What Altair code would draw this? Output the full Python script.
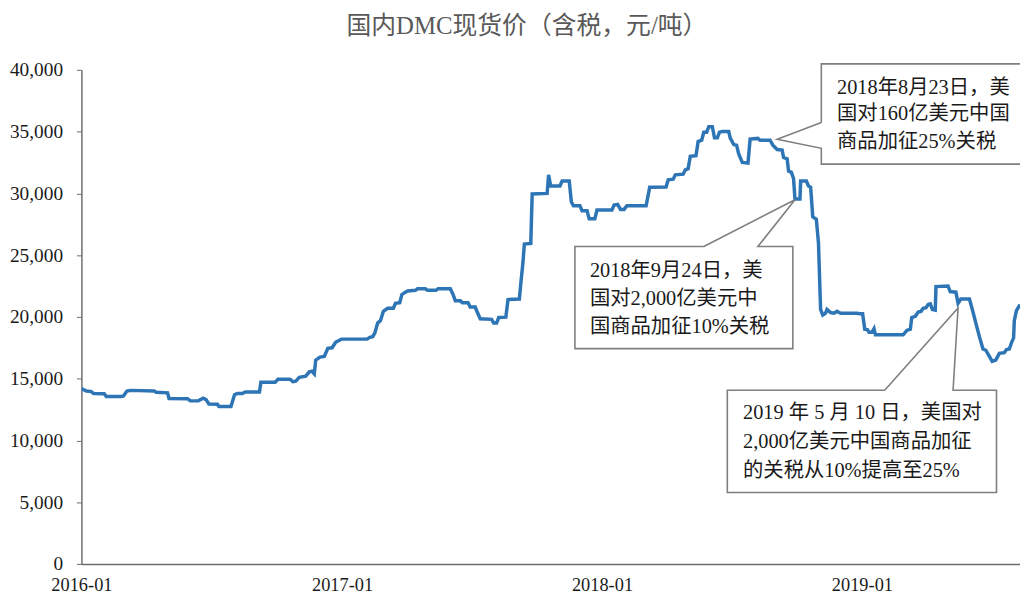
import altair as alt
import pandas as pd

# ---------------- data ----------------
dates_2016 = ["2016-01-01","2016-01-08","2016-01-15","2016-01-18","2016-02-02","2016-02-05","2016-02-26","2016-02-29","2016-03-05","2016-03-10",
              "2016-04-12","2016-04-15","2016-05-01","2016-05-03","2016-05-29","2016-06-02","2016-06-13","2016-06-20","2016-06-24","2016-06-28",
              "2016-07-10","2016-07-12","2016-07-29","2016-08-03","2016-08-07","2016-08-14","2016-08-18","2016-09-07","2016-09-09","2016-09-29",
              "2016-10-03","2016-10-20","2016-10-24","2016-10-28","2016-11-02","2016-11-11","2016-11-16","2016-11-20","2016-11-23","2016-11-25",
              "2016-12-01","2016-12-07","2016-12-09","2016-12-12","2016-12-18","2016-12-23","2016-12-31"]
prices_2016 = [14200,14000,13950,13800,13780,13550,13550,13600,14000,14050,
               14000,13900,13850,13400,13380,13200,13200,13420,13300,12950,
               12930,12750,12750,13700,13800,13800,13920,13920,14700,14700,
               14950,14950,14750,14800,15100,15200,15550,15600,15400,16500,
               16750,16800,17050,17450,17500,17950,18200]

dates_2017 = ["2017-02-05","2017-02-09","2017-02-13","2017-02-16","2017-02-20","2017-02-24","2017-02-28","2017-03-06","2017-03-14","2017-03-17",
              "2017-03-23","2017-03-26","2017-03-31","2017-04-03","2017-04-14","2017-04-17","2017-04-28","2017-05-01","2017-05-13","2017-05-16",
              "2017-06-02","2017-06-06","2017-06-09","2017-06-16","2017-06-19","2017-06-27","2017-06-30","2017-07-07","2017-07-09","2017-07-14",
              "2017-07-30","2017-08-02","2017-08-06","2017-08-09","2017-08-19","2017-08-22","2017-09-07","2017-09-09","2017-09-12","2017-09-14",
              "2017-09-23","2017-09-25","2017-10-16","2017-10-18","2017-10-21","2017-11-03","2017-11-06","2017-11-16","2017-11-19","2017-11-22",
              "2017-12-01","2017-12-04","2017-12-11","2017-12-14","2017-12-22","2017-12-25"]
prices_2017 = [18200,18350,18400,18700,19500,19700,20450,20700,20700,21100,
               21150,21800,22000,22100,22150,22270,22270,22150,22150,22280,
               22280,21800,21300,21300,21150,21150,20800,20800,20500,19850,
               19800,19500,19500,19950,19980,21400,21450,22700,24400,25900,
               25950,29950,30000,31500,30600,30600,31000,31000,29300,29000,
               29000,28600,28600,27950,27950,28650]

dates_2018 = ["2018-01-15","2018-01-18","2018-01-23","2018-01-27","2018-02-01","2018-02-05","2018-03-04","2018-03-09","2018-04-01","2018-04-04",
              "2018-04-11","2018-04-14","2018-04-25","2018-04-28","2018-05-02","2018-05-05","2018-05-13","2018-05-16","2018-05-21","2018-05-24",
              "2018-05-28","2018-05-31","2018-06-05","2018-06-08","2018-06-12","2018-06-15","2018-06-19","2018-06-28","2018-06-30","2018-07-05",
              "2018-07-09","2018-07-12","2018-07-17","2018-07-25","2018-07-28","2018-08-08","2018-08-11","2018-08-25","2018-08-29","2018-09-04",
              "2018-09-11","2018-09-13","2018-09-18","2018-09-20","2018-09-24","2018-09-27","2018-09-29","2018-10-06","2018-10-07","2018-10-15",
              "2018-10-18","2018-10-21","2018-10-24","2018-10-29","2018-11-01","2018-11-04","2018-11-07","2018-11-11","2018-11-13","2018-11-18",
              "2018-11-23","2018-11-27","2018-12-02","2018-12-25","2018-12-29"]
prices_2018 = [28650,29050,29100,28700,28700,29000,29000,30500,30520,31100,
               31150,31500,31550,31900,32000,33000,33050,34200,34300,34950,
               34950,35400,35400,34500,34500,34950,35000,35000,34500,33950,
               33900,33200,32500,32450,34400,34450,34300,34300,33900,33550,
               33500,32900,32800,31800,31700,31200,29550,29550,31000,31000,
               30600,30500,28100,27900,26000,20600,20150,20300,20600,20350,
               20300,20450,20300,20300,20250]

dates_2019 = ["2019-01-02","2019-01-05","2019-01-09","2019-01-11","2019-01-15","2019-01-18","2019-01-20","2019-02-28","2019-03-05","2019-03-10",
              "2019-03-12","2019-03-17","2019-03-21","2019-03-25","2019-03-28","2019-04-01","2019-04-04","2019-04-07","2019-04-10","2019-04-14",
              "2019-04-15","2019-05-02","2019-05-05","2019-05-13","2019-05-16","2019-05-20","2019-06-01","2019-06-06","2019-06-10","2019-06-15",
              "2019-06-20","2019-06-24","2019-06-29","2019-07-03","2019-07-08","2019-07-13","2019-07-20","2019-07-23","2019-07-27","2019-07-30",
              "2019-08-02","2019-08-03","2019-08-06","2019-08-11"]
prices_2019 = [20250,19000,18950,18750,18750,19050,18550,18550,18900,19000,
               19950,20050,20400,20450,20700,20750,21000,21050,20600,20550,
               22450,22500,22050,22000,21100,21450,21450,20400,19500,18400,
               17400,17300,16800,16400,16500,17050,17100,17350,17400,17900,
               18300,19700,20500,21000]

x_tick_years = [2016, 2017, 2018, 2019]
y_ticks = [0, 5000, 10000, 15000, 20000, 25000, 30000, 35000, 40000]

title_text = "国内DMC现货价（含税，元/吨）"

# callout outlines (date, value) vertices
callout_ids = ["c1"] * 8 + ["c2"] * 8 + ["c3"] * 8
callout_dates = ["2018-11-05","2018-11-05","2019-08-28","2019-08-28","2018-11-05","2018-11-05","2018-09-04","2018-11-05",
                 "2018-05-24","2018-09-29","2018-08-08","2018-09-26","2018-09-26","2017-11-24","2017-11-24","2018-05-24",
                 "2019-02-02","2019-05-16","2019-05-09","2019-07-09","2019-07-09","2018-06-26","2018-06-26","2019-02-02"]
callout_values = [35740,40480,40480,32370,32370,33650,34380,35740,
                  25700,29480,25700,25700,17430,17430,25700,25700,
                  14056,20720,14056,14056,5783,5783,14056,14056]

note_dates = ["2018-11-27"] * 3 + ["2017-12-15"] * 3 + ["2018-07-18"] * 3
note_values = [38550, 36390, 34140, 23690, 21450, 19200, 12210, 9880, 7550]
note_texts = ["2018年8月23日，美", "国对160亿美元中国", "商品加征25%关税",
              "2018年9月24日，美", "国对2,000亿美元中", "国商品加征10%关税",
              "2019 年 5 月 10 日，美国对", "2,000亿美元中国商品加征", "的关税从10%提高至25%"]

# ---------------- build ----------------
price_df = pd.DataFrame({
    "date": pd.to_datetime(dates_2016 + dates_2017 + dates_2018 + dates_2019),
    "price": prices_2016 + prices_2017 + prices_2018 + prices_2019,
})
callout_df = pd.DataFrame({
    "cid": callout_ids,
    "ord": list(range(len(callout_ids))),
    "date": pd.to_datetime(callout_dates),
    "value": callout_values,
})
note_df = pd.DataFrame({"date": pd.to_datetime(note_dates), "value": note_values, "text": note_texts})

FONT = "Liberation Serif, Noto Sans CJK SC"
AXIS_GRAY = "#6e6e6e"

x_scale = alt.Scale(domain=[alt.DateTime(year=2016, month=1, date=1),
                            alt.DateTime(year=2019, month=8, date=11)])
y_scale = alt.Scale(domain=[0, 40000])

line = alt.Chart(price_df).mark_line(color="#2e75b6", strokeWidth=3.5, clip=True).encode(
    x=alt.X("date:T", scale=x_scale, title=None,
            axis=alt.Axis(values=[alt.DateTime(year=y, month=1, date=1) for y in x_tick_years],
                          format="%Y-%m", ticks=False, grid=False, labelFlush=False,
                          labelPadding=12, labelFontSize=18.5,
                          domainColor=AXIS_GRAY, domainWidth=1.5)),
    y=alt.Y("price:Q", scale=y_scale, title=None,
            axis=alt.Axis(values=y_ticks, format=",.0f", grid=False, tickSize=5,
                          tickColor=AXIS_GRAY, domainColor=AXIS_GRAY, domainWidth=1.5,
                          labelPadding=14, labelFontSize=19.5)),
)

callouts = alt.Chart(callout_df).mark_line(color="#7f7f7f", strokeWidth=1.6, clip=False).encode(
    x=alt.X("date:T", scale=x_scale),
    y=alt.Y("value:Q", scale=y_scale),
    detail="cid:N",
    order="ord:Q",
)

notes = alt.Chart(note_df).mark_text(align="left", baseline="middle", font=FONT,
                                     fontSize=20.5, color="#1a1a1a", clip=False).encode(
    x=alt.X("date:T", scale=x_scale),
    y=alt.Y("value:Q", scale=y_scale),
    text="text:N",
)

chart = alt.layer(line, callouts, notes).properties(
    width=946,
    height=498,
    title=alt.TitleParams(text=title_text, font=FONT, fontSize=25, fontWeight="normal",
                          color="#595959", anchor="middle", dx=-24, offset=21),
    autosize=alt.AutoSizeParams(type="none"),
    padding={"left": 74, "top": 60, "right": 0, "bottom": 32},
).configure_view(strokeWidth=0).configure_axis(
    labelFont=FONT, labelColor="#1a1a1a",
)

chart.save("out.html", embed_options={"renderer": "svg", "actions": False})
